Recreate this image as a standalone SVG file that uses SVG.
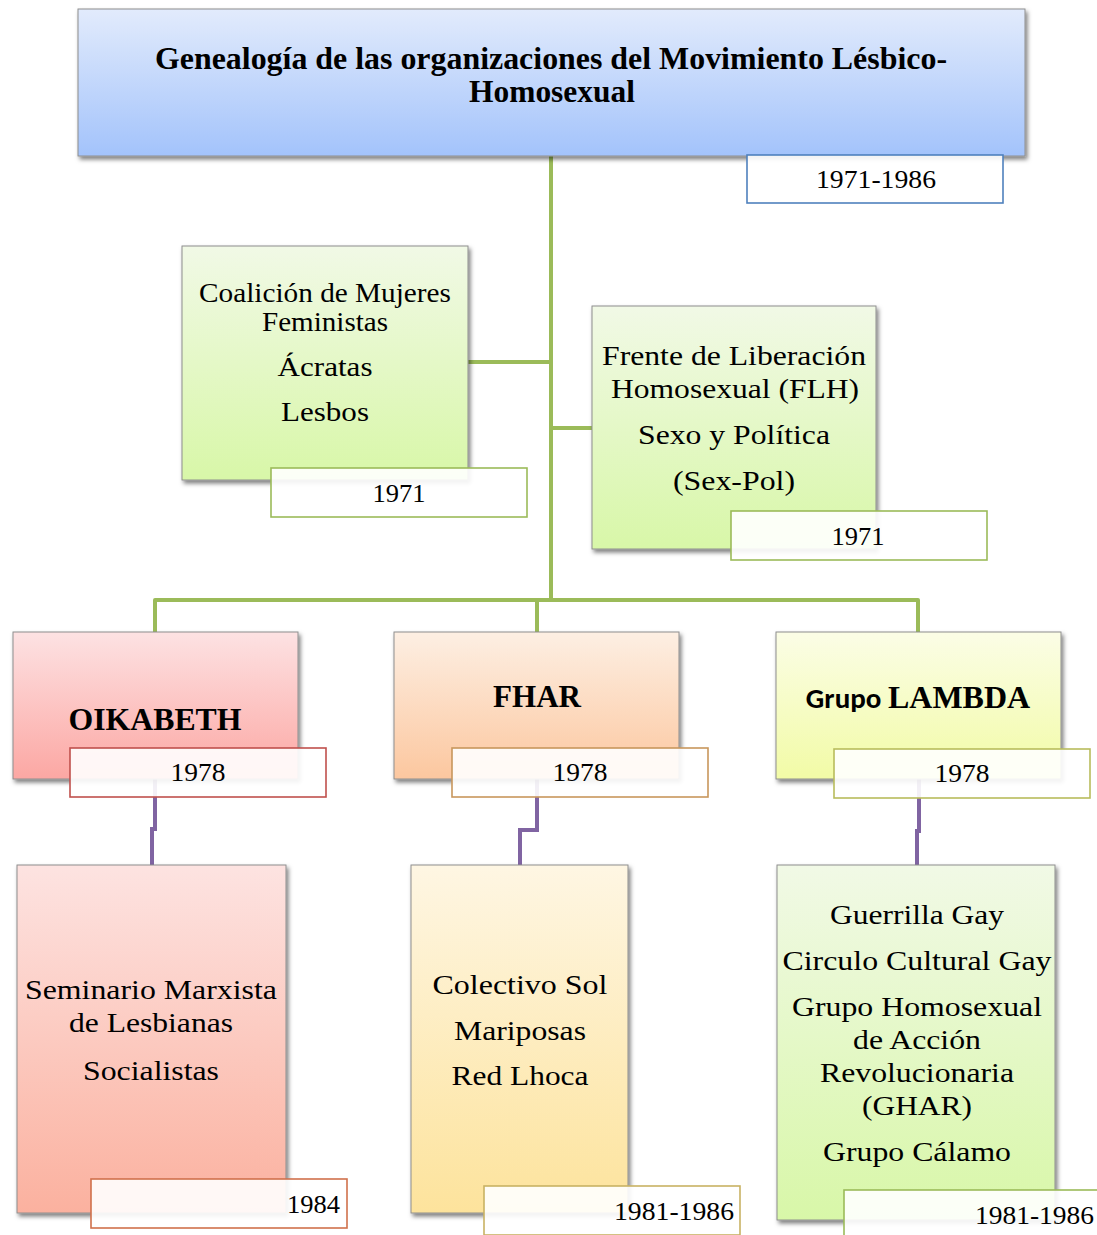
<svg xmlns="http://www.w3.org/2000/svg" width="1097" height="1235" viewBox="0 0 1097 1235">
<style>
.node{stroke:#8e8e8e;stroke-width:1;filter:url(#sh)}
.t{font-family:'Liberation Serif','Times New Roman',Times,serif;font-size:27px;fill:#000;text-anchor:middle}
.b{font-family:'Liberation Serif','Times New Roman',Times,serif;font-weight:bold;fill:#000;text-anchor:middle}
.d{font-family:'Liberation Serif','Times New Roman',Times,serif;font-size:25px;fill:#000}
.date{fill:#fff;fill-opacity:0.9;stroke-width:1.6}
.g{fill:none;stroke:#9bbb59;stroke-width:4;stroke-linejoin:round}
.p{fill:none;stroke:#8064a2;stroke-width:4;stroke-linejoin:miter}
</style>
<defs>
<filter id="sh" x="-10%" y="-10%" width="125%" height="125%">
<feDropShadow dx="2" dy="3" stdDeviation="2.2" flood-color="#000" flood-opacity="0.5"/>
</filter>
<linearGradient id="gBlue" x1="0" y1="0" x2="0" y2="1"><stop offset="0" stop-color="#e2ebfc"/><stop offset="1" stop-color="#a3c3fb"/></linearGradient>
<linearGradient id="gGreen" x1="0" y1="0" x2="0" y2="1"><stop offset="0" stop-color="#f1f9e6"/><stop offset="1" stop-color="#d8f7a8"/></linearGradient>
<linearGradient id="gRed" x1="0" y1="0" x2="0" y2="1"><stop offset="0" stop-color="#fde2e3"/><stop offset="1" stop-color="#fca7a3"/></linearGradient>
<linearGradient id="gOrange" x1="0" y1="0" x2="0" y2="1"><stop offset="0" stop-color="#fdefe3"/><stop offset="1" stop-color="#fcc79f"/></linearGradient>
<linearGradient id="gYellow" x1="0" y1="0" x2="0" y2="1"><stop offset="0" stop-color="#fbfde6"/><stop offset="1" stop-color="#f2fba6"/></linearGradient>
<linearGradient id="gSalmon" x1="0" y1="0" x2="0" y2="1"><stop offset="0" stop-color="#fde3e1"/><stop offset="1" stop-color="#fbb19f"/></linearGradient>
<linearGradient id="gGold" x1="0" y1="0" x2="0" y2="1"><stop offset="0" stop-color="#fef6e3"/><stop offset="1" stop-color="#fde39c"/></linearGradient>
</defs>
<rect width="1097" height="1235" fill="#fff"/>

<g id="connectors">
<path class="g" d="M551 156 V600"/>
<path class="g" d="M468 362 H551"/>
<path class="g" d="M551 428 H592"/>
<path class="g" d="M155 632 V600 H918 V632"/>
<path class="g" d="M537 600 V632"/>
<path class="p" d="M155 779 V829 H152 V865"/>
<path class="p" d="M537 779 V830 H520 V865"/>
<path class="p" d="M919 779 V831 H917 V865"/>
</g>

<g id="title">
<rect class="node" x="78" y="9" width="947" height="147" fill="url(#gBlue)"/>
<text class="b" x="551" y="69" font-size="32" textLength="792" lengthAdjust="spacingAndGlyphs">Genealogía de las organizaciones del Movimiento Lésbico-</text>
<text class="b" x="552" y="102" font-size="32" textLength="166" lengthAdjust="spacingAndGlyphs">Homosexual</text>
<rect class="date" x="747" y="155" width="256" height="48" stroke="#4f81bd"/>
<text class="d" x="876" y="188" text-anchor="middle" textLength="120" lengthAdjust="spacingAndGlyphs">1971-1986</text>
</g>

<g id="coalicion">
<rect class="node" x="182" y="246" width="286" height="234" fill="url(#gGreen)"/>
<text class="t" x="325" y="302" textLength="252" lengthAdjust="spacingAndGlyphs">Coalición de Mujeres</text>
<text class="t" x="325" y="331" textLength="126" lengthAdjust="spacingAndGlyphs">Feministas</text>
<text class="t" x="325" y="376" textLength="95" lengthAdjust="spacingAndGlyphs">Ácratas</text>
<text class="t" x="325" y="421" textLength="88" lengthAdjust="spacingAndGlyphs">Lesbos</text>
<rect class="date" x="271" y="468" width="256" height="49" stroke="#9bbb59"/>
<text class="d" x="399" y="502" text-anchor="middle" textLength="53" lengthAdjust="spacingAndGlyphs">1971</text>
</g>

<g id="flh">
<rect class="node" x="592" y="306" width="284" height="243" fill="url(#gGreen)"/>
<text class="t" x="734" y="365" textLength="264" lengthAdjust="spacingAndGlyphs">Frente de Liberación</text>
<text class="t" x="735" y="398" textLength="248" lengthAdjust="spacingAndGlyphs">Homosexual (FLH)</text>
<text class="t" x="734" y="444" textLength="192" lengthAdjust="spacingAndGlyphs">Sexo y Política</text>
<text class="t" x="734" y="490" textLength="122" lengthAdjust="spacingAndGlyphs">(Sex-Pol)</text>
<rect class="date" x="731" y="511" width="256" height="49" stroke="#9bbb59"/>
<text class="d" x="858" y="545" text-anchor="middle" textLength="53" lengthAdjust="spacingAndGlyphs">1971</text>
</g>

<g id="oikabeth">
<rect class="node" x="13" y="632" width="285" height="147" fill="url(#gRed)"/>
<text class="b" x="155" y="730" font-size="32" textLength="173" lengthAdjust="spacingAndGlyphs">OIKABETH</text>
<rect class="date" x="70" y="748" width="256" height="49" stroke="#c0504d"/>
<text class="d" x="198" y="781" text-anchor="middle" textLength="55" lengthAdjust="spacingAndGlyphs">1978</text>
</g>

<g id="fhar">
<rect class="node" x="394" y="632" width="285" height="147" fill="url(#gOrange)"/>
<text class="b" x="537" y="707" font-size="31" textLength="88" lengthAdjust="spacingAndGlyphs">FHAR</text>
<rect class="date" x="452" y="748" width="256" height="49" stroke="#c8975c"/>
<text class="d" x="580" y="781" text-anchor="middle" textLength="55" lengthAdjust="spacingAndGlyphs">1978</text>
</g>

<g id="lambda">
<rect class="node" x="776" y="632" width="285" height="147" fill="url(#gYellow)"/>
<text x="918" y="708" text-anchor="middle" fill="#000" font-weight="bold"><tspan font-family="Carlito,'Liberation Sans',sans-serif" font-size="29">Grupo </tspan><tspan font-family="'Liberation Serif','Times New Roman',serif" font-size="32">LAMBDA</tspan></text>
<rect class="date" x="834" y="749" width="256" height="49" stroke="#b8bc5c"/>
<text class="d" x="962" y="782" text-anchor="middle" textLength="55" lengthAdjust="spacingAndGlyphs">1978</text>
</g>

<g id="seminario">
<rect class="node" x="17" y="865" width="269" height="348" fill="url(#gSalmon)"/>
<text class="t" x="151" y="999" textLength="252" lengthAdjust="spacingAndGlyphs">Seminario Marxista</text>
<text class="t" x="151" y="1032" textLength="164" lengthAdjust="spacingAndGlyphs">de Lesbianas</text>
<text class="t" x="151" y="1080" textLength="136" lengthAdjust="spacingAndGlyphs">Socialistas</text>
<rect class="date" x="91" y="1179" width="256" height="49" stroke="#d0714c"/>
<text class="d" x="340" y="1213" text-anchor="end" textLength="53" lengthAdjust="spacingAndGlyphs">1984</text>
</g>

<g id="colectivo">
<rect class="node" x="411" y="865" width="217" height="348" fill="url(#gGold)"/>
<text class="t" x="520" y="994" textLength="175" lengthAdjust="spacingAndGlyphs">Colectivo Sol</text>
<text class="t" x="520" y="1040" textLength="132" lengthAdjust="spacingAndGlyphs">Mariposas</text>
<text class="t" x="520" y="1085" textLength="137" lengthAdjust="spacingAndGlyphs">Red Lhoca</text>
<rect class="date" x="484" y="1186" width="256" height="49" stroke="#c9b263"/>
<text class="d" x="734" y="1220" text-anchor="end" textLength="120" lengthAdjust="spacingAndGlyphs">1981-1986</text>
</g>

<g id="guerrilla">
<rect class="node" x="777" y="865" width="278" height="355" fill="url(#gGreen)"/>
<text class="t" x="917" y="924" textLength="174" lengthAdjust="spacingAndGlyphs">Guerrilla Gay</text>
<text class="t" x="917" y="970" textLength="269" lengthAdjust="spacingAndGlyphs">Circulo Cultural Gay</text>
<text class="t" x="917" y="1016" textLength="250" lengthAdjust="spacingAndGlyphs">Grupo Homosexual</text>
<text class="t" x="917" y="1049" textLength="128" lengthAdjust="spacingAndGlyphs">de Acción</text>
<text class="t" x="917" y="1082" textLength="194" lengthAdjust="spacingAndGlyphs">Revolucionaria</text>
<text class="t" x="917" y="1115" textLength="110" lengthAdjust="spacingAndGlyphs">(GHAR)</text>
<text class="t" x="917" y="1161" textLength="188" lengthAdjust="spacingAndGlyphs">Grupo Cálamo</text>
<rect class="date" x="844" y="1190" width="260" height="52" stroke="#9bbb59"/>
<text class="d" x="1094" y="1224" text-anchor="end" textLength="119" lengthAdjust="spacingAndGlyphs">1981-1986</text>
</g>
</svg>
